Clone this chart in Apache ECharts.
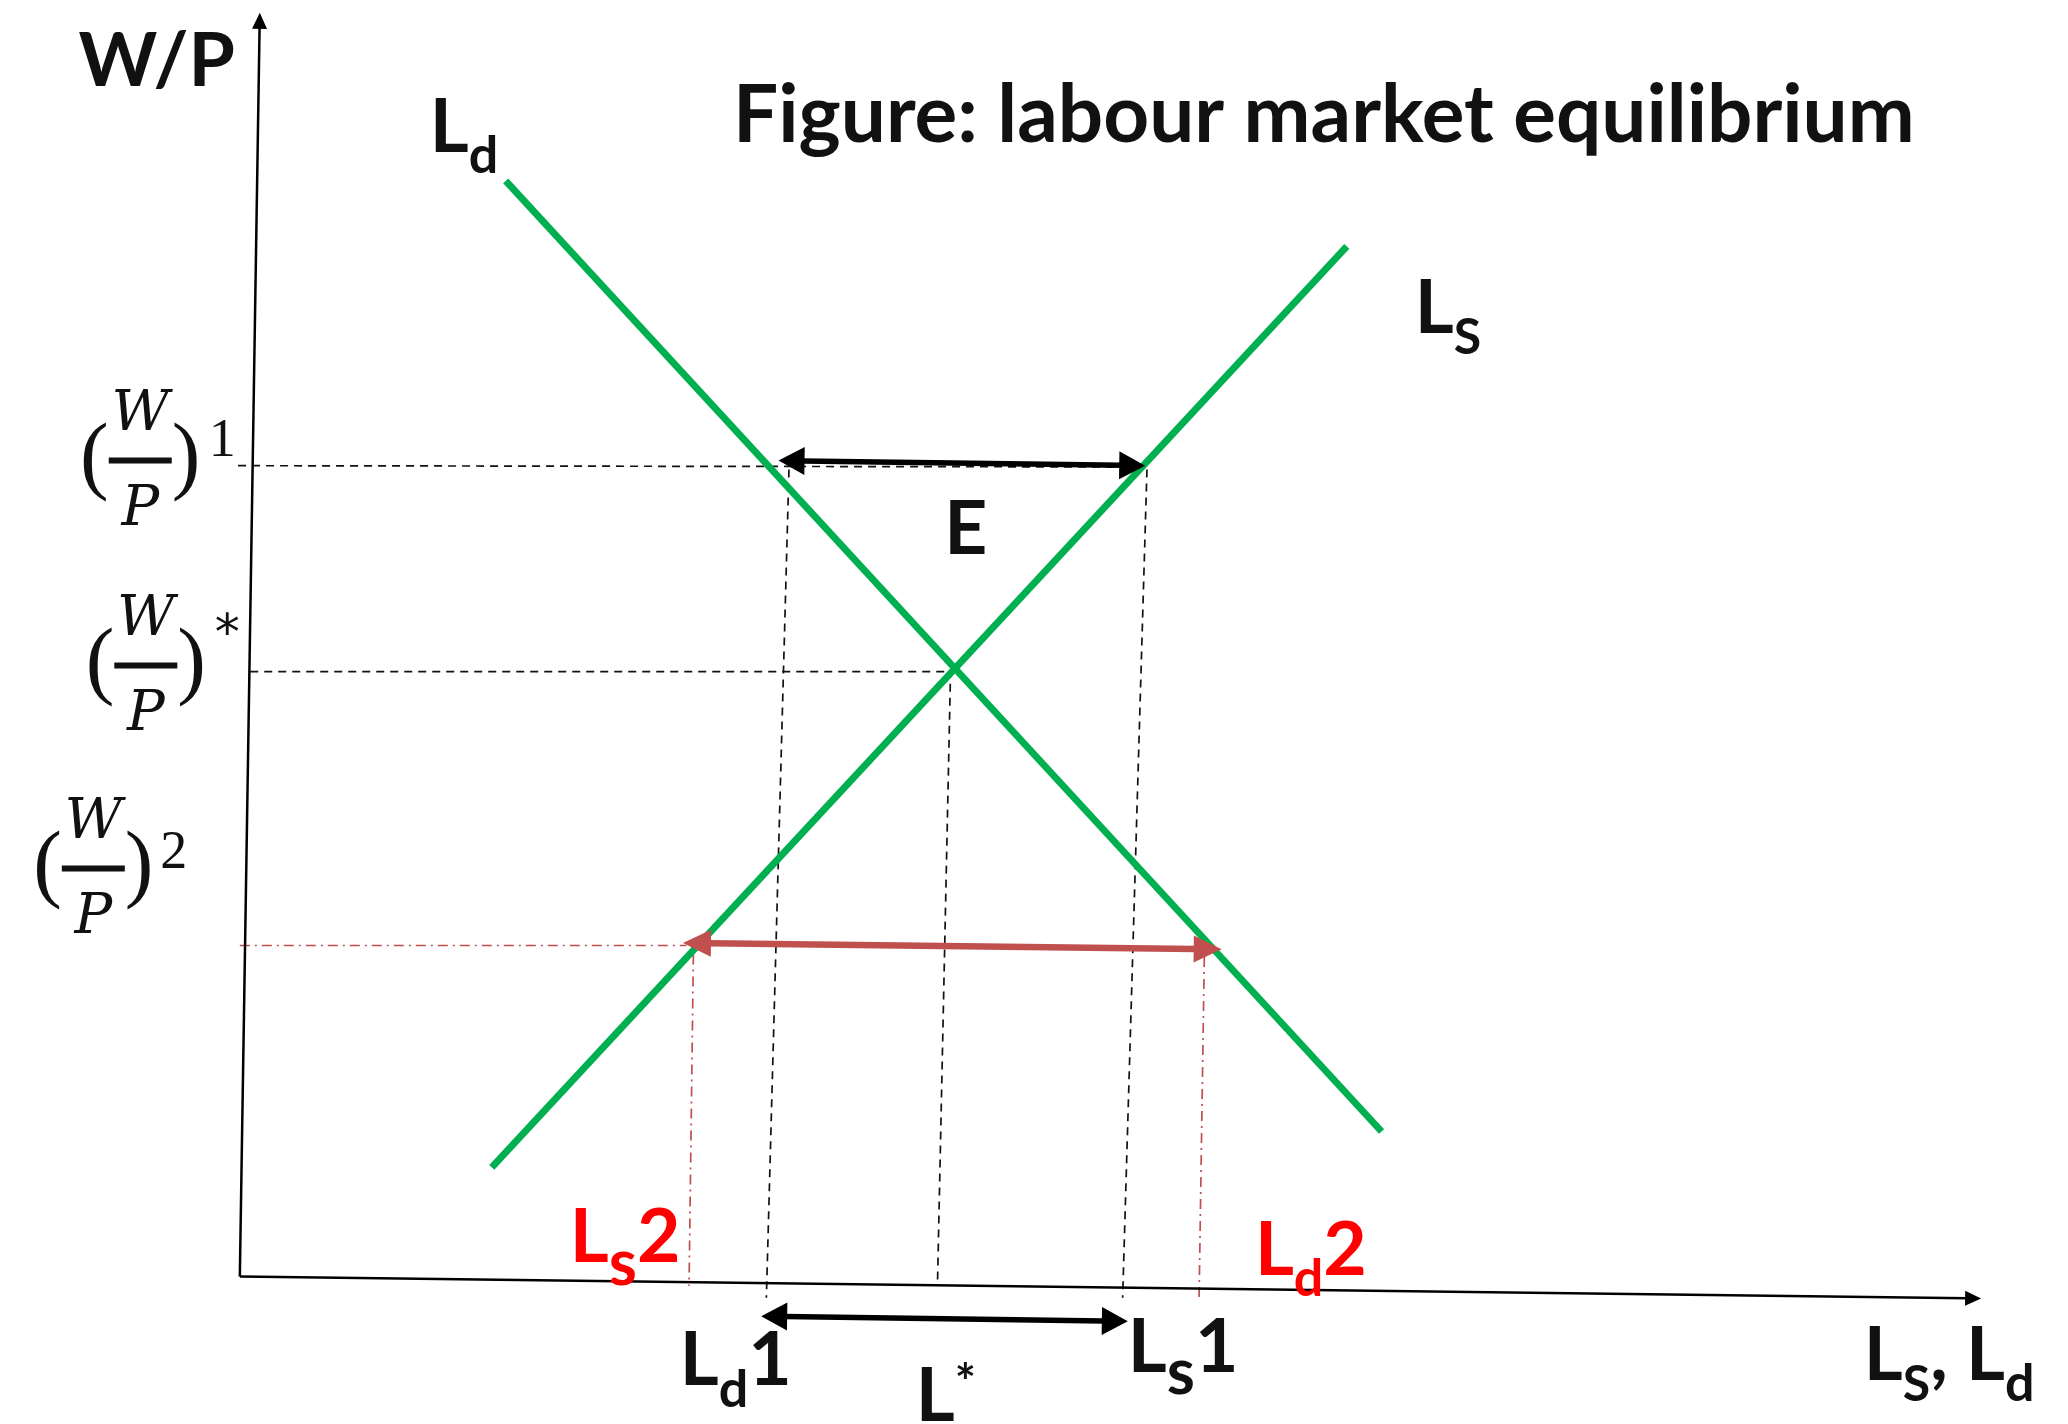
<!DOCTYPE html>
<html>
<head>
<meta charset="utf-8">
<script src="https://cdn.jsdelivr.net/npm/echarts@6/dist/echarts.min.js"></script>
<style>
html, body { margin: 0; padding: 0; background: #fff; }
#chart { width: 2068px; height: 1424px; }
</style>
</head>
<body>
<div id="chart"></div>
<script>
// labour demand and labour supply, end points
var demandLd = [[15.3, 85.4], [65.7, 11.3]];
var supplyLs = [[14.5, 8.5], [63.7, 80.3]];

// hand drawn axes (a little tilted)
var axisY = [[0, 0], [1.15, 98.5]];
var axisX = [[0, 0], [100.2, -1.71]];

// black dashed guides: (W/P)1, (W/P)*, Ld1, Ls1, L*
var guidesBlack = [
  [[-0.1, 63.2], [52.1, 63.1]],
  [[0.6, 47.15], [41.0, 47.15]],
  [[31.6, 62.9], [30.3, -1.66]],
  [[52.2, 62.9], [50.8, -1.66]],
  [[40.9, 47.3], [40.15, -0.37]]
];
// red dash-dot guides: (W/P)2, Ls2, Ld2
var guidesRed = [
  [[0, 25.8], [25.7, 25.8]],
  [[26.1, 25.1], [25.85, -0.75]],
  [[55.5, 24.9], [55.2, -1.64]]
];
// double headed arrows (tip to tip)
var arrowsBlack = [
  [[31.0, 63.6], [52.1, 63.2]],
  [[30.0, -3.1], [51.1, -3.5]]
];
var arrowsRed = [
  [[25.5, 26.0], [56.5, 25.5]]
];

// texts
var titleText = 'Figure: labour market equilibrium';
var blackLabels = [
  ['W/P', -4.78, 94.67, 'center'],
  ['{m|L}{d|d}', 10.93, 89.56, 'left'],
  ['{m|L}{S|S}', 67.61, 75.45, 'left'],
  ['E', 41.78, 58.24, 'center'],
  ['{m|L}{d|d}{m|1}', 25.32, -6.6, 'left'],
  ['{m|L}{s|s}{m|1}', 51.10, -5.53, 'left'],
  ['{m|L}{sup|*}', 38.9, -9.35, 'left'],
  ['{m|L}{S|S}{m|, L}{d|d}', 93.45, -6.16, 'left']
];
var redLabels = [
  ['{m|L}{s|s}{m|2}', 18.99, 3.0, 'left'],
  ['{m|L}{d|d}{m|2}', 58.41, 2.03, 'left']
];
var wageMarks = ['1', '*', '2'];
var wageFracPos = [[-5.73, 63.22], [-5.41, 47.24], [-8.43, 31.41]];
var wageSupPos = [[-1.01, 65.09], [-0.72, 49.9], [-3.80, 32.93]];

var ink = '#111';
var green = '#00B050';
var brick = '#C0504D';

var richSub = {
  m: { fontFamily: 'Lato', fontWeight: 'bold', fontSize: 75, lineHeight: 75 },
  d: { fontFamily: 'Lato', fontWeight: 'bold', fontSize: 52, lineHeight: 52, padding: [58, 0, 0, 0] },
  s: { fontFamily: 'Lato', fontWeight: 'bold', fontSize: 64, lineHeight: 64, padding: [52, 0, 0, 0] },
  S: { fontFamily: 'Lato', fontWeight: 'bold', fontSize: 50, lineHeight: 50, padding: [59, 0, 0, 0] },
  sup: { fontFamily: 'Lato', fontWeight: 'bold', fontSize: 50, lineHeight: 50, padding: [0, 0, 26, 0] }
};

var hidden = { color: 'rgba(0,0,0,0)', opacity: 1 };

function segSeries(segs, style) {
  return segs.map(function (seg) {
    return {
      type: 'line', data: seg, symbol: 'none', silent: true, z: 2,
      lineStyle: style
    };
  });
}

// straight segment with a triangular head at the end (and at the start if both)
function arrowSeries(segs, color, width, head, both) {
  return {
    type: 'custom', silent: true, z: 5,
    encode: { x: [0, 2], y: [1, 3] },
    data: segs.map(function (s) { return [s[0][0], s[0][1], s[1][0], s[1][1]]; }),
    renderItem: function (params, api) {
      var a = api.coord([api.value(0), api.value(1)]);
      var b = api.coord([api.value(2), api.value(3)]);
      var dx = b[0] - a[0], dy = b[1] - a[1];
      var len = Math.sqrt(dx * dx + dy * dy);
      var ux = dx / len, uy = dy / len;
      var nx = -uy, ny = ux;
      var hw = head[0] / 2, hl = head[1];
      var kids = [];
      function headAt(tip, sx, sy) {
        var bx = tip[0] - sx * hl, by = tip[1] - sy * hl;
        kids.push({
          type: 'polygon',
          shape: { points: [tip, [bx + nx * hw, by + ny * hw], [bx - nx * hw, by - ny * hw]] },
          style: { fill: color }
        });
        return [bx + sx * 2, by + sy * 2];
      }
      var end = headAt(b, ux, uy);
      var start = both ? headAt(a, -ux, -uy) : a;
      kids.unshift({
        type: 'line',
        shape: { x1: start[0], y1: start[1], x2: end[0], y2: end[1] },
        style: { stroke: color, lineWidth: width }
      });
      return { type: 'group', children: kids };
    }
  };
}

function textSeries(items, color) {
  return {
    type: 'scatter', symbolSize: 1, silent: true, z: 10,
    itemStyle: hidden,
    data: items.map(function (t) {
      return { name: t[0], value: [t[1], t[2]], label: { align: t[3] } };
    }),
    label: {
      show: true, position: 'inside', verticalAlign: 'middle',
      color: color, fontFamily: 'Lato', fontWeight: 'bold', fontSize: 75,
      formatter: function (p) { return p.name; },
      rich: richSub
    }
  };
}

var series = [];
series = series.concat(segSeries(guidesBlack, { color: ink, width: 1.7, type: [8, 6] }));
series = series.concat(segSeries(guidesRed, { color: brick, width: 1.7, type: [10, 5, 2, 5] }));
series.push({ type: 'line', data: demandLd, symbol: 'none', silent: true, z: 3, lineStyle: { color: green, width: 7 } });
series.push({ type: 'line', data: supplyLs, symbol: 'none', silent: true, z: 3, lineStyle: { color: green, width: 7 } });
series.push(arrowSeries([axisY, axisX], '#000', 2.5, [15, 16], false));
series.push(arrowSeries(arrowsBlack, '#000', 5.5, [28, 26], true));
series.push(arrowSeries(arrowsRed, brick, 6.5, [27, 28], true));
series.push(textSeries(blackLabels, ink));
series.push(textSeries(redLabels, '#FF0000'));
series.push({
  type: 'scatter', symbolSize: 1, silent: true, z: 10,
  itemStyle: hidden,
  data: [{ name: titleText, value: [62.38, 90.45] }],
  label: {
    show: true, position: 'inside', align: 'center', verticalAlign: 'middle',
    color: ink, fontFamily: 'Lato', fontWeight: 'bold', fontSize: 80,
    formatter: function (p) { return p.name; }
  }
});
// (W/P) fractions
series.push({
  type: 'scatter', symbolSize: 1, silent: true, z: 10,
  itemStyle: hidden,
  data: wageFracPos,
  label: {
    show: true, position: 'inside', align: 'center', verticalAlign: 'middle',
    color: ink,
    formatter: '{w|W}\n{lp|(}{bar|}{rp|)}\n{p|P}',
    rich: {
      w: { fontFamily: 'DejaVu Serif', fontStyle: 'italic', fontSize: 56, lineHeight: 84 },
      p: { fontFamily: 'DejaVu Serif', fontStyle: 'italic', fontSize: 56, lineHeight: 94 },
      lp: { fontFamily: 'Liberation Serif', fontSize: 86, lineHeight: 6 },
      rp: { fontFamily: 'Liberation Serif', fontSize: 86, lineHeight: 6 },
      bar: { width: 63, height: 6, lineHeight: 6, backgroundColor: ink }
    }
  }
});
// superscripts 1, *, 2
series.push({
  type: 'scatter', symbolSize: 1, silent: true, z: 10,
  itemStyle: hidden,
  data: wageSupPos.map(function (p, i) { return { name: wageMarks[i], value: p }; }),
  label: {
    show: true, position: 'inside', align: 'center', verticalAlign: 'middle',
    color: ink,
    formatter: function (p) { return p.name === '*' ? '{a|*}' : '{n|' + p.name + '}'; },
    rich: {
      n: { fontFamily: 'Liberation Serif', fontSize: 54 },
      a: { fontFamily: 'DejaVu Sans', fontSize: 50 }
    }
  }
});

var chart = echarts.init(document.getElementById('chart'));
chart.setOption({
  animation: false,
  backgroundColor: '#fff',
  grid: { left: 0, right: 0, top: 0, bottom: 0 },
  xAxis: { type: 'value', min: -13.8, max: 105.2, show: false },
  yAxis: { type: 'value', min: -11.5, max: 99.5, show: false },
  series: series
});
</script>
</body>
</html>
